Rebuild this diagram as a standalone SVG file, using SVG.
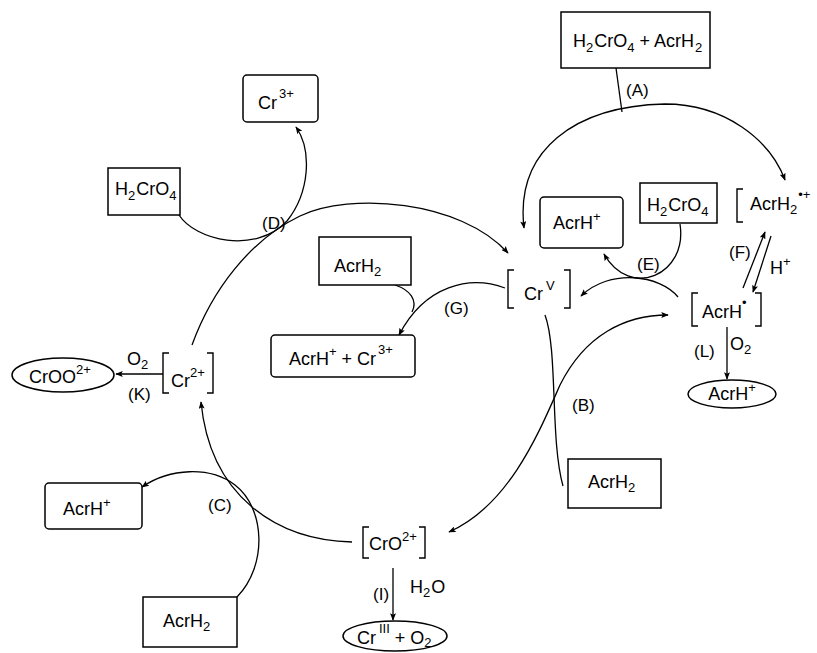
<svg xmlns="http://www.w3.org/2000/svg" width="817" height="653" viewBox="0 0 817 653">
<style>
text{font-family:"Liberation Sans",Arial,sans-serif;font-size:18px;fill:#000}
.lb{font-size:17px}
.s{font-size:13px}
.box{fill:#fff;stroke:#000;stroke-width:1.5}
.br{fill:none;stroke:#000;stroke-width:1.4}
.ln{fill:none;stroke:#000;stroke-width:1.3}
.ar{marker-end:url(#ah)}
.ar2{marker-start:url(#ah);marker-end:url(#ah)}
</style>
<defs>
<marker id="ah" viewBox="0 0 10 8" refX="9" refY="4" markerWidth="9" markerHeight="6" markerUnits="userSpaceOnUse" orient="auto-start-reverse"><path d="M0,0 L10,4 L0,8 L2,4 z" fill="#000"/></marker>
</defs>
<rect width="817" height="653" fill="#fff"/>

<g id="connectors">
<!-- A -->
<path class="ln" d="M616 68 L622 112"/>
<path class="ln ar2" d="M524 228 C515 150 575 106 665 104 C725 104 770 140 785 180"/>
<!-- E -->
<path class="ln ar" d="M680 224 C688 275 630 300 604 254"/>
<path class="ln ar" d="M678 297 C660 275 610 268 581 296"/>
<!-- F -->
<path class="ln ar" d="M743 288 L765 232"/>
<path class="ln ar" d="M771 236 L753 292"/>
<!-- L -->
<path class="ln ar" d="M727 327 L727 379"/>
<!-- B -->
<path class="ln" d="M545 315 C558 350 550 440 563 486"/>
<path class="ln ar2" d="M449 532 C510 505 540 430 560 385 C585 335 625 315 668 315"/>
<!-- I -->
<path class="ln ar" d="M393 568 L393 620"/>
<!-- C -->
<path class="ln ar" d="M352 542 C275 540 210 495 201 402"/>
<path class="ln ar" d="M237 597 C268 565 265 508 235 485 C210 466 170 468 142 487"/>
<!-- K -->
<path class="ln ar" d="M163 374 L116 374"/>
<!-- D -->
<path class="ln ar" d="M192 345 C212 290 250 240 300 216 C350 192 460 200 508 253"/>
<path class="ln ar" d="M179 215 C195 240 255 255 287 221 C310 192 312 150 296 127"/>
<!-- G -->
<path class="ln ar" d="M505 288 C470 275 425 285 399 335"/>
<path class="ln" d="M395 285 C410 290 418 300 412 312"/>
</g>

<g id="n-top">
<rect class="box" x="561" y="12" width="149" height="56"/>
<text x="573" y="47">H<tspan class="s" dy="5">2</tspan><tspan dy="-5" dx="1">CrO</tspan><tspan class="s" dy="5">4</tspan><tspan dy="-5"> + AcrH</tspan><tspan class="s" dy="5" dx="1">2</tspan></text>
</g>

<g id="n-acrh2rad">
<path class="br" d="M743 189 H737 V222 H743"/>
<text x="750" y="210">AcrH<tspan class="s" dy="4">2</tspan><tspan class="s" dy="-15" dx="1">•+</tspan></text>
</g>

<g id="n-acrhrad">
<path class="br" d="M698 293 H692 V326 H698"/>
<path class="br" d="M755 293 H761 V326 H755"/>
<text x="702" y="318">AcrH<tspan class="s" dy="-11">•</tspan></text>
</g>

<g id="n-acrh-l">
<ellipse class="box" cx="732" cy="394" rx="44" ry="14"/>
<text x="732" y="400" text-anchor="middle">AcrH<tspan class="s" dy="-8">+</tspan></text>
</g>

<g id="n-h2cro4-e">
<rect class="box" x="640" y="183" width="77" height="40"/>
<text x="647" y="211">H<tspan class="s" dy="5">2</tspan><tspan dy="-5" dx="1">CrO</tspan><tspan class="s" dy="5">4</tspan></text>
</g>

<g id="n-acrh-e">
<rect class="box" x="540" y="197" width="83" height="51" rx="4"/>
<text x="553" y="229">AcrH<tspan class="s" dy="-8">+</tspan></text>
</g>

<g id="n-crv">
<path class="br" d="M514 270 H508 V308 H514"/>
<path class="br" d="M564 270 H570 V308 H564"/>
<text x="524" y="300">Cr<tspan class="s" dy="-10" dx="3">V</tspan></text>
</g>

<g id="n-acrh2-b">
<rect class="box" x="568" y="459" width="93" height="49"/>
<text x="588" y="488">AcrH<tspan class="s" dy="4">2</tspan></text>
</g>

<g id="n-cro">
<path class="br" d="M369 527 H363 V558 H369"/>
<path class="br" d="M419 527 H425 V558 H419"/>
<text x="369" y="550">CrO<tspan class="s" dy="-9">2+</tspan></text>
</g>

<g id="n-criii">
<ellipse class="box" cx="395" cy="636" rx="52" ry="15"/>
<text x="357" y="644">Cr<tspan class="s" dy="-11" dx="3">III</tspan><tspan dy="11"> + O</tspan><tspan class="s" dy="3">2</tspan></text>
</g>

<g id="n-acrh2-c">
<rect class="box" x="143" y="597" width="94" height="50"/>
<text x="163" y="627">AcrH<tspan class="s" dy="4">2</tspan></text>
</g>

<g id="n-acrh-c">
<rect class="box" x="45" y="483" width="97" height="46" rx="4"/>
<text x="63" y="515">AcrH<tspan class="s" dy="-8">+</tspan></text>
</g>

<g id="n-cr2">
<path class="br" d="M169 353 H163 V393 H169"/>
<path class="br" d="M207 353 H213 V393 H207"/>
<text x="171" y="387">Cr<tspan class="s" dy="-10">2+</tspan></text>
</g>

<g id="n-croo">
<ellipse class="box" cx="63" cy="375" rx="51" ry="17"/>
<text x="29" y="383">CrOO<tspan class="s" dy="-9">2+</tspan></text>
</g>

<g id="n-h2cro4-d">
<rect class="box" x="108" y="168" width="72" height="47"/>
<text x="115" y="195">H<tspan class="s" dy="5">2</tspan><tspan dy="-5" dx="1">CrO</tspan><tspan class="s" dy="5">4</tspan></text>
</g>

<g id="n-cr3">
<rect class="box" x="243" y="75" width="75" height="47" rx="4"/>
<text x="258" y="109">Cr<tspan class="s" dy="-11" dx="2">3+</tspan></text>
</g>

<g id="n-acrh2-g">
<rect class="box" x="319" y="237" width="92" height="48"/>
<text x="334" y="272">AcrH<tspan class="s" dy="4">2</tspan></text>
</g>

<g id="n-prod-g">
<rect class="box" x="271" y="335" width="144" height="42" rx="4"/>
<text x="289" y="365">AcrH<tspan class="s" dy="-9">+</tspan><tspan dy="9"> + Cr</tspan><tspan class="s" dy="-11" dx="2">3+</tspan></text>
</g>

<g id="labels">
<text class="lb" x="626" y="96">(A)</text>
<text class="lb" x="572" y="411">(B)</text>
<text class="lb" x="208" y="511">(C)</text>
<text class="lb" x="262" y="229">(D)</text>
<text class="lb" x="637" y="270">(E)</text>
<text class="lb" x="729" y="258">(F)</text>
<text class="lb" x="444" y="314">(G)</text>
<text class="lb" x="373" y="600">(I)</text>
<text class="lb" x="128" y="400">(K)</text>
<text class="lb" x="694" y="357">(L)</text>
<text x="770" y="274">H<tspan class="s" dy="-8">+</tspan></text>
<text x="730" y="350">O<tspan class="s" dy="4">2</tspan></text>
<text x="127" y="365">O<tspan class="s" dy="4">2</tspan></text>
<text x="410" y="593">H<tspan class="s" dy="4">2</tspan><tspan dy="-4" dx="1">O</tspan></text>
</g>
</svg>
